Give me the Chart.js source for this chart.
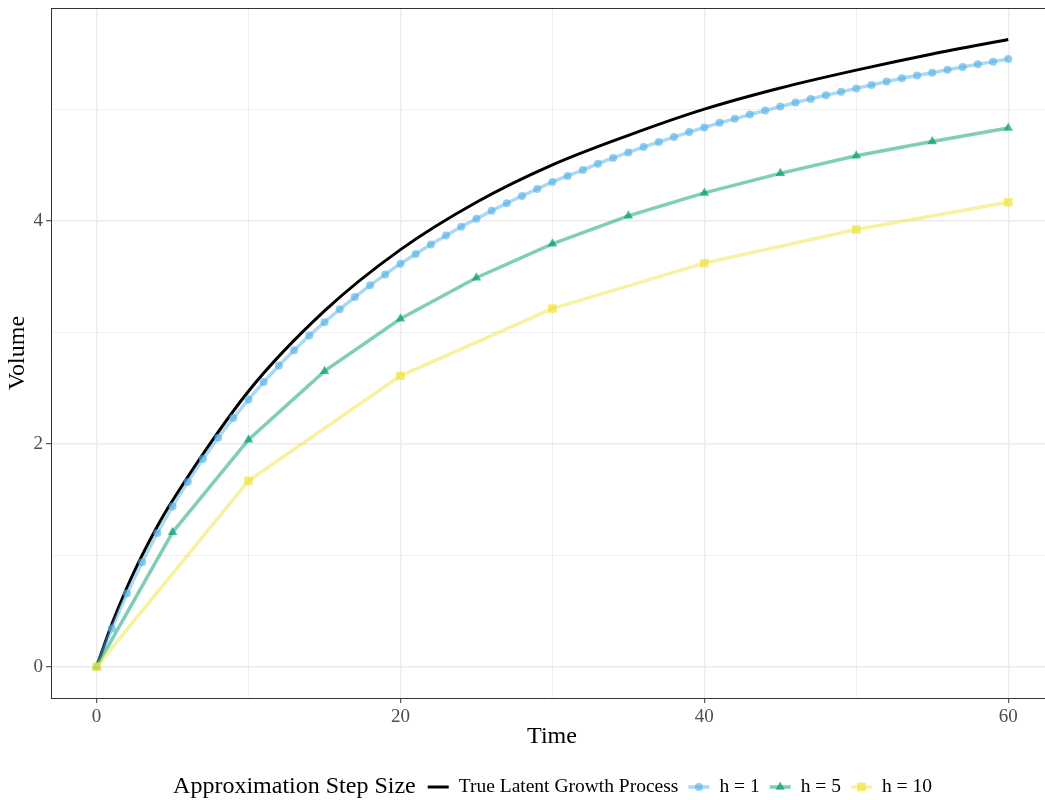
<!DOCTYPE html>
<html>
<head>
<meta charset="utf-8">
<script src="https://cdn.jsdelivr.net/npm/chart.js@4.4.0/dist/chart.umd.min.js"></script>
<style>
  html, body { margin: 0; padding: 0; background: #fff; }
</style>
</head>
<body>
<canvas id="chart" width="1045" height="800"></canvas>
<script>
// data
const trueTimes = [0, 1, 2, 3, 4, 5, 10, 15, 20, 25, 30, 35, 40, 45, 50, 55, 60];
const trueVolume = [0, 0.38, 0.71, 1.00, 1.26, 1.49, 2.47, 3.19, 3.74, 4.165, 4.50, 4.765, 5.00, 5.19, 5.35, 5.495, 5.625];

const h1Volume = [
  0, 0.343, 0.656, 0.936, 1.199, 1.437, 1.657, 1.863, 2.054, 2.230, 2.397,
  2.552, 2.701, 2.838, 2.970, 3.089, 3.205, 3.315, 3.420, 3.518, 3.614,
  3.700, 3.786, 3.867, 3.945, 4.016, 4.088, 4.156, 4.222, 4.284, 4.347,
  4.401, 4.454, 4.511, 4.562, 4.612, 4.660, 4.705, 4.749, 4.794, 4.835,
  4.877, 4.913, 4.952, 4.988, 5.023, 5.059, 5.092, 5.125, 5.155, 5.186,
  5.217, 5.247, 5.277, 5.301, 5.327, 5.354, 5.378, 5.402, 5.426, 5.450
];
const h5Volume = [0, 1.205, 2.035, 2.65, 3.12, 3.488, 3.792, 4.043, 4.249, 4.424, 4.582, 4.710, 4.830];
const h10Volume = [0, 1.666, 2.608, 3.211, 3.619, 3.920, 4.165];

const seriesLabels = ['True Latent Growth Process', 'h = 1', 'h = 5', 'h = 10'];
const xTickLabels = [0, 20, 40, 60];
const yTickLabels = [0, 2, 4];

const FONT = '"Liberation Serif", "DejaVu Serif", serif';
Chart.defaults.font.family = FONT;

const toPoints = (vals, h) => vals.map((v, i) => ({ x: i * h, y: v }));

const datasets = [
  {
    label: seriesLabels[0],
    data: trueTimes.map((t, i) => ({ x: t, y: trueVolume[i] })),
    borderColor: '#000000',
    borderWidth: 3,
    pointRadius: 0,
    cubicInterpolationMode: 'monotone',
    order: 4
  },
  {
    label: seriesLabels[1],
    data: toPoints(h1Volume, 1),
    borderColor: 'rgba(86,180,233,0.5)',
    borderWidth: 3.5,
    pointStyle: 'circle',
    pointRadius: 4,
    pointBorderWidth: 0,
    pointBackgroundColor: 'rgba(86,180,233,0.65)',
    order: 3
  },
  {
    label: seriesLabels[2],
    data: toPoints(h5Volume, 5),
    borderColor: 'rgba(0,158,115,0.5)',
    borderWidth: 3.5,
    pointStyle: 'triangle',
    pointRadius: 5.5,
    pointBorderWidth: 0,
    pointBackgroundColor: 'rgba(0,158,115,0.7)',
    order: 2
  },
  {
    label: seriesLabels[3],
    data: toPoints(h10Volume, 10),
    borderColor: 'rgba(240,228,66,0.5)',
    borderWidth: 3.5,
    pointStyle: 'rect',
    pointRadius: 6,
    pointBorderWidth: 0,
    pointBackgroundColor: 'rgba(240,228,66,0.75)',
    order: 1
  }
];

function drawMarker(ctx, style, x, y, color) {
  ctx.fillStyle = color;
  ctx.beginPath();
  if (style === 'circle') {
    ctx.arc(x, y, 4, 0, Math.PI * 2);
  } else if (style === 'triangle') {
    ctx.moveTo(x, y - 5.5);
    ctx.lineTo(x + 4.8, y + 2.8);
    ctx.lineTo(x - 4.8, y + 2.8);
    ctx.closePath();
  } else if (style === 'rect') {
    ctx.rect(x - 4.3, y - 4.3, 8.6, 8.6);
  }
  ctx.fill();
}

const decorations = {
  id: 'decorations',
  afterDraw(chart) {
    const { ctx, chartArea: a } = chart;
    ctx.save();

    // top panel border
    ctx.strokeStyle = '#333333';
    ctx.lineWidth = 1;
    ctx.beginPath();
    ctx.moveTo(a.left, a.top + 0.5);
    ctx.lineTo(a.right, a.top + 0.5);
    ctx.stroke();

    // axis titles
    ctx.fillStyle = '#000000';
    ctx.font = '24px ' + FONT;
    ctx.textAlign = 'center';
    ctx.textBaseline = 'middle';
    ctx.fillText('Time', 552, 737);
    ctx.save();
    ctx.translate(18, (a.top + a.bottom) / 2);
    ctx.rotate(-Math.PI / 2);
    ctx.fillText('Volume', 0, 0);
    ctx.restore();

    // legend, centred under the panel
    const y = 787;
    const titleFont = '24px ' + FONT;
    const labelFont = '19.5px ' + FONT;
    const keyW = 21, gapKey = 10, gapItem = 10, gapTitle = 12;
    ctx.font = titleFont;
    const titleW = ctx.measureText('Approximation Step Size').width;
    ctx.font = labelFont;
    const labelW = chart.data.datasets.map(d => ctx.measureText(d.label).width);
    let total = titleW + gapTitle;
    labelW.forEach((w, i) => { total += keyW + gapKey + w + (i < labelW.length - 1 ? gapItem : 0); });
    let x = 552.5 - total / 2;

    ctx.textAlign = 'left';
    ctx.font = titleFont;
    ctx.fillText('Approximation Step Size', x, y);
    x += titleW + gapTitle;

    chart.data.datasets.forEach((d, i) => {
      ctx.strokeStyle = d.borderColor;
      ctx.lineWidth = d.borderWidth;
      ctx.beginPath();
      ctx.moveTo(x, y);
      ctx.lineTo(x + keyW, y);
      ctx.stroke();
      if (d.pointRadius > 0) drawMarker(ctx, d.pointStyle, x + keyW / 2, y, d.pointBackgroundColor);
      x += keyW + gapKey;
      ctx.fillStyle = '#000000';
      ctx.font = labelFont;
      ctx.fillText(d.label, x, y);
      x += labelW[i] + gapItem;
    });

    ctx.restore();
  }
};

const gridColor = major => major ? '#EBEBEB' : '#F0F0F0';

// no extra padding from the scales, the panel box is fixed by the layout padding
function fixBox(s, w, h) {
  if (w !== null) s.width = w;
  if (h !== null) s.height = h;
  s.paddingTop = 0;
  s.paddingBottom = 0;
  s.paddingLeft = 0;
  s.paddingRight = 0;
}

new Chart(document.getElementById('chart'), {
  type: 'line',
  data: { datasets },
  options: {
    responsive: false,
    animation: false,
    devicePixelRatio: 1,
    layout: { autoPadding: false, padding: { top: 8, right: 0, bottom: 0, left: 0 } },
    plugins: { legend: { display: false }, tooltip: { enabled: false } },
    scales: {
      x: {
        type: 'linear',
        min: -3,
        max: 62.42,
        ticks: {
          stepSize: 10,
          includeBounds: false,
          autoSkip: false,
          maxRotation: 0,
          padding: 3,
          color: '#4D4D4D',
          font: { size: 19 },
          callback: v => xTickLabels.includes(v) ? String(v) : ''
        },
        grid: {
          color: c => gridColor(xTickLabels.includes(c.tick.value)),
          lineWidth: c => xTickLabels.includes(c.tick.value) ? 1.4 : 1,
          tickColor: c => xTickLabels.includes(c.tick.value) ? '#333333' : 'rgba(0,0,0,0)',
          tickLength: 5,
          tickWidth: 1
        },
        border: { color: '#333333', width: 1 },
        afterFit: s => fixBox(s, null, 102)
      },
      y: {
        type: 'linear',
        min: -0.281,
        max: 5.907,
        ticks: {
          stepSize: 1,
          includeBounds: false,
          padding: 3,
          color: '#4D4D4D',
          font: { size: 19 },
          callback: v => yTickLabels.includes(v) ? String(v) : ''
        },
        grid: {
          color: c => gridColor(yTickLabels.includes(c.tick.value)),
          lineWidth: c => yTickLabels.includes(c.tick.value) ? 1.4 : 1,
          tickColor: c => yTickLabels.includes(c.tick.value) ? '#333333' : 'rgba(0,0,0,0)',
          tickLength: 5,
          tickWidth: 1
        },
        border: { color: '#333333', width: 1 },
        afterFit: s => fixBox(s, 51, null)
      }
    }
  },
  plugins: [decorations]
});
</script>
</body>
</html>
